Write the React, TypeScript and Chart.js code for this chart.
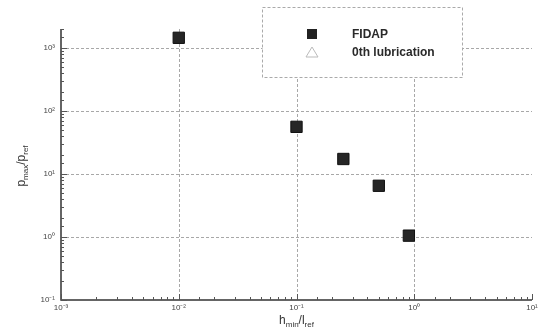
import React, { useEffect, useRef } from "react";
import { Chart, registerables } from "chart.js";

Chart.register(...registerables);

const hRatio: number[] = [0.01, 0.1, 0.25, 0.5, 0.9];
const fidapP: number[] = [1450, 56, 17.3, 6.5, 1.05];
const lubricationP: number[] = [];
const seriesNames: string[] = ["FIDAP", "0th lubrication"];
const xTickValues: number[] = [0.001, 0.01, 0.1, 1, 10];
const yTickValues: number[] = [0.1, 1, 10, 100, 1000];
const supers: Record<string, string> = { "-": "⁻", "0": "⁰", "1": "¹", "2": "²", "3": "³" };

const FONT = "'Liberation Sans', Arial, sans-serif";

function powLabel(v: number): string {
  const e = Math.round(Math.log10(v));
  if (Math.abs(Math.log10(v) - e) > 1e-6) return "";
  return "10" + String(e).split("").map((c) => supers[c] || c).join("");
}

function isMajor(v: number): boolean {
  const l = Math.log10(v);
  return Math.abs(l - Math.round(l)) < 1e-6;
}

const axesPlugin = {
  id: "axesPlugin",
  beforeDatasetsDraw(chart: any) {
    const { ctx, chartArea } = chart;
    const xs = chart.scales.x;
    const ys = chart.scales.y;
    ctx.save();
    // dashed grid lines at major decades
    ctx.strokeStyle = "#a8a8a8";
    ctx.lineWidth = 1;
    ctx.setLineDash([3, 2]);
    xTickValues.forEach((v) => {
      if (v === xs.min || v === xs.max) return;
      const px = Math.round(xs.getPixelForValue(v)) + 0.5;
      ctx.beginPath();
      ctx.moveTo(px, chartArea.top);
      ctx.lineTo(px, chartArea.bottom);
      ctx.stroke();
    });
    yTickValues.forEach((v) => {
      if (v === ys.min) return;
      const py = Math.round(ys.getPixelForValue(v)) + 0.5;
      ctx.beginPath();
      ctx.moveTo(chartArea.left, py);
      ctx.lineTo(chartArea.right, py);
      ctx.stroke();
    });
    ctx.setLineDash([]);
    // axis lines
    ctx.strokeStyle = "#333";
    ctx.lineWidth = 1.5;
    ctx.beginPath();
    ctx.moveTo(chartArea.left, chartArea.top);
    ctx.lineTo(chartArea.left, chartArea.bottom);
    ctx.lineTo(chartArea.right, chartArea.bottom);
    ctx.stroke();
    // inner tick marks
    ctx.lineWidth = 1;
    ctx.strokeStyle = "#555";
    xs.ticks.forEach((t: any) => {
      const px = Math.round(xs.getPixelForValue(t.value)) + 0.5;
      const len = isMajor(t.value) ? 6 : 3;
      ctx.beginPath();
      ctx.moveTo(px, chartArea.bottom);
      ctx.lineTo(px, chartArea.bottom - len);
      ctx.stroke();
    });
    ys.ticks.forEach((t: any) => {
      const py = Math.round(ys.getPixelForValue(t.value)) + 0.5;
      const len = isMajor(t.value) ? 6 : 3;
      ctx.beginPath();
      ctx.moveTo(chartArea.left, py);
      ctx.lineTo(chartArea.left + len, py);
      ctx.stroke();
    });
    ctx.restore();
  },
  afterDatasetsDraw(chart: any) {
    const { ctx, chartArea } = chart;
    ctx.save();
    // legend box
    const bx = 262.5, by = 7.5, bw = 200, bh = 70;
    ctx.fillStyle = "#fff";
    ctx.fillRect(bx, by, bw, bh);
    ctx.strokeStyle = "#aaa";
    ctx.lineWidth = 1;
    ctx.setLineDash([3, 2]);
    ctx.strokeRect(bx, by, bw, bh);
    ctx.setLineDash([]);
    const ds = chart.data.datasets;
    // FIDAP marker
    ctx.fillStyle = "#222";
    ctx.fillRect(307, 29, 10, 10);
    // triangle marker
    ctx.strokeStyle = "#bbb";
    ctx.beginPath();
    ctx.moveTo(312, 47);
    ctx.lineTo(318, 57);
    ctx.lineTo(306, 57);
    ctx.closePath();
    ctx.stroke();
    ctx.fillStyle = "#2a2a2a";
    ctx.font = "bold 12px " + FONT;
    ctx.textBaseline = "middle";
    ctx.textAlign = "left";
    ctx.fillText(ds[0].label, 352, 35);
    ctx.fillText(ds[1].label, 352, 53);

    // axis titles with subscripts
    const drawSub = (parts: [string, boolean][], cx: number, cy: number) => {
      const big = "12px " + FONT;
      const small = "8px " + FONT;
      let w = 0;
      parts.forEach(([s, sub]) => {
        ctx.font = sub ? small : big;
        w += ctx.measureText(s).width;
      });
      let x = cx - w / 2;
      parts.forEach(([s, sub]) => {
        ctx.font = sub ? small : big;
        ctx.fillText(s, x, sub ? cy + 4 : cy);
        x += ctx.measureText(s).width;
      });
    };
    ctx.fillStyle = "#333";
    ctx.textBaseline = "middle";
    ctx.textAlign = "left";
    drawSub([["h", false], ["min", true], ["/l", false], ["ref", true]], (chartArea.left + chartArea.right) / 2, 321);
    ctx.save();
    ctx.translate(22, 166);
    ctx.rotate(-Math.PI / 2);
    drawSub([["p", false], ["max", true], ["/p", false], ["ref", true]], 0, 0);
    ctx.restore();
    ctx.restore();
  },
};

export default function App() {
  const ref = useRef<HTMLCanvasElement>(null);
  useEffect(() => {
    if (!ref.current) return;
    const chart = new Chart(ref.current, {
      type: "scatter",
      data: {
        datasets: [
          {
            label: seriesNames[0],
            data: hRatio.map((x, i) => ({ x, y: fidapP[i] })),
            pointStyle: "rect",
            pointRadius: 8,
            pointBackgroundColor: "#262626",
            pointBorderColor: "#111",
            pointBorderWidth: 1,
          },
          {
            label: seriesNames[1],
            data: lubricationP.map((y, i) => ({ x: hRatio[i], y })),
            pointStyle: "triangle",
            pointRadius: 6,
            pointBackgroundColor: "#fff",
            pointBorderColor: "#bbb",
          },
        ],
      },
      options: {
        animation: false,
        responsive: false,
        devicePixelRatio: 1,
        layout: { padding: { left: 0, top: 29, right: 15, bottom: 0 } },
        plugins: { legend: { display: false }, tooltip: { enabled: false } },
        scales: {
          x: {
            type: "logarithmic",
            min: 0.001,
            max: 10,
            grid: { display: false, drawTicks: false, tickLength: 0 },
            border: { display: false },
            ticks: {
              autoSkip: false,
              maxRotation: 0,
              padding: 3,
              color: "#444",
              font: { size: 8, family: FONT },
              callback: (v: any) => powLabel(Number(v)),
            },
            afterFit: (s: any) => {
              s.height = 31;
            },
          },
          y: {
            type: "logarithmic",
            min: 0.1,
            max: 2000,
            grid: { display: false, drawTicks: false, tickLength: 0 },
            border: { display: false },
            ticks: {
              autoSkip: false,
              padding: 6,
              color: "#444",
              font: { size: 8, family: FONT },
              callback: (v: any) => powLabel(Number(v)),
            },
            afterFit: (s: any) => {
              s.width = 61;
            },
          },
        },
      },
      plugins: [axesPlugin],
    });
    return () => chart.destroy();
  }, []);
  return (
    <div style={{ position: "absolute", left: 0, top: 0, width: 547, height: 331, background: "#fff" }}>
      <canvas ref={ref} width={547} height={331} />
    </div>
  );
}
